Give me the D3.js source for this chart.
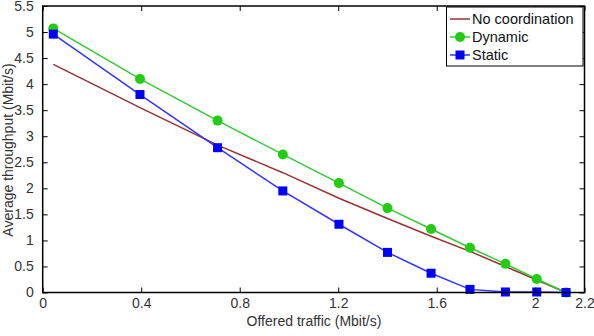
<!DOCTYPE html>
<html>
<head>
<meta charset="utf-8">
<script src="https://cdn.jsdelivr.net/npm/d3@7"></script>
<style>
  html, body { margin: 0; padding: 0; background: #fff; }
  svg { display: block; }
  text { font-family: "Liberation Sans", Arial, sans-serif; }
</style>
</head>
<body>
<svg id="chart" width="594" height="336"></svg>
<script>
// ---- data ----
const offered = [0.043, 0.395, 0.71, 0.975, 1.203, 1.40, 1.577, 1.735, 1.879, 2.006, 2.125];
const noCoordination = [4.38, 3.55, 2.83, 2.30, 1.81, 1.42, 1.08, 0.79, 0.50, 0.24, 0];
const dynamic = [5.07, 4.10, 3.30, 2.65, 2.10, 1.62, 1.22, 0.86, 0.55, 0.26, 0];
const staticVals = [4.96, 3.80, 2.78, 1.95, 1.31, 0.77, 0.37, 0.06, 0.01, 0.01, 0];
const xTicks = [0, 0.4, 0.8, 1.2, 1.6, 2, 2.2];
const xTickLabels = ["0", "0.4", "0.8", "1.2", "1.6", "2", "2.2"];
const yTicks = [0, 0.5, 1, 1.5, 2, 2.5, 3, 3.5, 4, 4.5, 5, 5.5];
const yTickLabels = ["0", "0.5", "1", "1.5", "2", "2.5", "3", "3.5", "4", "4.5", "5", "5.5"];
const seriesNames = ["No coordination", "Dynamic", "Static"];

const series = [
  { name: seriesNames[0], values: noCoordination, color: "#993333", marker: null },
  { name: seriesNames[1], values: dynamic, color: "#33cc33", markerColor: "#22cc11", marker: "circle" },
  { name: seriesNames[2], values: staticVals, color: "#3333ff", markerColor: "#0000ff", marker: "square" }
];

const svg = d3.select("#chart");
const m = { left: 42.7, right: 584.5, top: 6, bottom: 292.5 };
const x = d3.scaleLinear().domain([0, 2.2]).range([m.left, m.right]);
const y = d3.scaleLinear().domain([0, 5.5]).range([m.bottom, m.top]);
const fs = 14;
const txtColor = "#333";

// lines & markers
const line = d3.line().x(d => x(d[0])).y(d => y(d[1]));
const plot = svg.append("g");
series.forEach(s => {
  const pts = offered.map((o, i) => [o, s.values[i]]);
  plot.append("path").datum(pts)
    .attr("d", line).attr("fill", "none")
    .attr("stroke", s.color).attr("stroke-width", 1.5);
});
series.forEach(s => {
  const pts = offered.map((o, i) => [o, s.values[i]]);
  if (s.marker === "circle") {
    plot.selectAll(null).data(pts).enter().append("circle")
      .attr("cx", d => x(d[0])).attr("cy", d => y(d[1])).attr("r", 5)
      .attr("fill", s.markerColor);
  } else if (s.marker === "square") {
    plot.selectAll(null).data(pts).enter().append("rect")
      .attr("x", d => x(d[0]) - 4.5).attr("y", d => y(d[1]) - 4.5)
      .attr("width", 9).attr("height", 9).attr("fill", s.markerColor);
  }
});

// axes
function styleAxis(g, showLabels) {
  g.select(".domain").remove();
  g.selectAll(".tick line").attr("stroke", "#000").attr("stroke-width", 1);
  g.selectAll(".tick text").attr("fill", txtColor).style("font-size", fs + "px")
    .style("font-family", "'Liberation Sans', Arial, sans-serif");
  if (!showLabels) g.selectAll(".tick text").remove();
}
svg.append("g").attr("transform", `translate(0,${m.bottom})`)
  .call(d3.axisBottom(x).tickValues(xTicks).tickSize(-5).tickPadding(6)
    .tickFormat((d, i) => xTickLabels[i]))
  .call(g => styleAxis(g, true));
svg.append("g").attr("transform", `translate(0,${m.top})`)
  .call(d3.axisTop(x).tickValues(xTicks).tickSize(-5))
  .call(g => styleAxis(g, false));
svg.append("g").attr("transform", `translate(${m.left},0)`)
  .call(d3.axisLeft(y).tickValues(yTicks).tickSize(-5).tickPadding(9)
    .tickFormat((d, i) => yTickLabels[i]))
  .call(g => styleAxis(g, true));
svg.append("g").attr("transform", `translate(${m.right},0)`)
  .call(d3.axisRight(y).tickValues(yTicks).tickSize(-5))
  .call(g => styleAxis(g, false));

// box
svg.append("rect").attr("x", m.left).attr("y", m.top)
  .attr("width", m.right - m.left).attr("height", m.bottom - m.top)
  .attr("fill", "none").attr("stroke", "#000").attr("stroke-width", 1.5);

// axis labels
svg.append("text").attr("x", 314).attr("y", 326).attr("text-anchor", "middle")
  .attr("fill", txtColor).style("font-size", fs + "px").text("Offered traffic (Mbit/s)");
svg.append("text").attr("transform", "translate(13,150) rotate(-90)")
  .attr("text-anchor", "middle").attr("fill", txtColor).style("font-size", fs + "px")
  .text("Average throughput (Mbit/s)");

// legend
const lg = svg.append("g");
lg.append("rect").attr("x", 446.5).attr("y", 7).attr("width", 136.5).attr("height", 59)
  .attr("fill", "#fff").attr("stroke", "#000").attr("stroke-width", 1);
series.forEach((s, i) => {
  const cy = 19 + i * 18;
  lg.append("line").attr("x1", 450).attr("x2", 470).attr("y1", cy).attr("y2", cy)
    .attr("stroke", s.color).attr("stroke-width", 1.5);
  if (s.marker === "circle") {
    lg.append("circle").attr("cx", 460).attr("cy", cy).attr("r", 5).attr("fill", s.markerColor);
  } else if (s.marker === "square") {
    lg.append("rect").attr("x", 455.5).attr("y", cy - 4.5).attr("width", 9).attr("height", 9)
      .attr("fill", s.markerColor);
  }
  lg.append("text").attr("x", 472).attr("y", cy + 5).attr("fill", "#111")
    .style("font-size", "14.5px").text(s.name);
});
</script>
</body>
</html>
